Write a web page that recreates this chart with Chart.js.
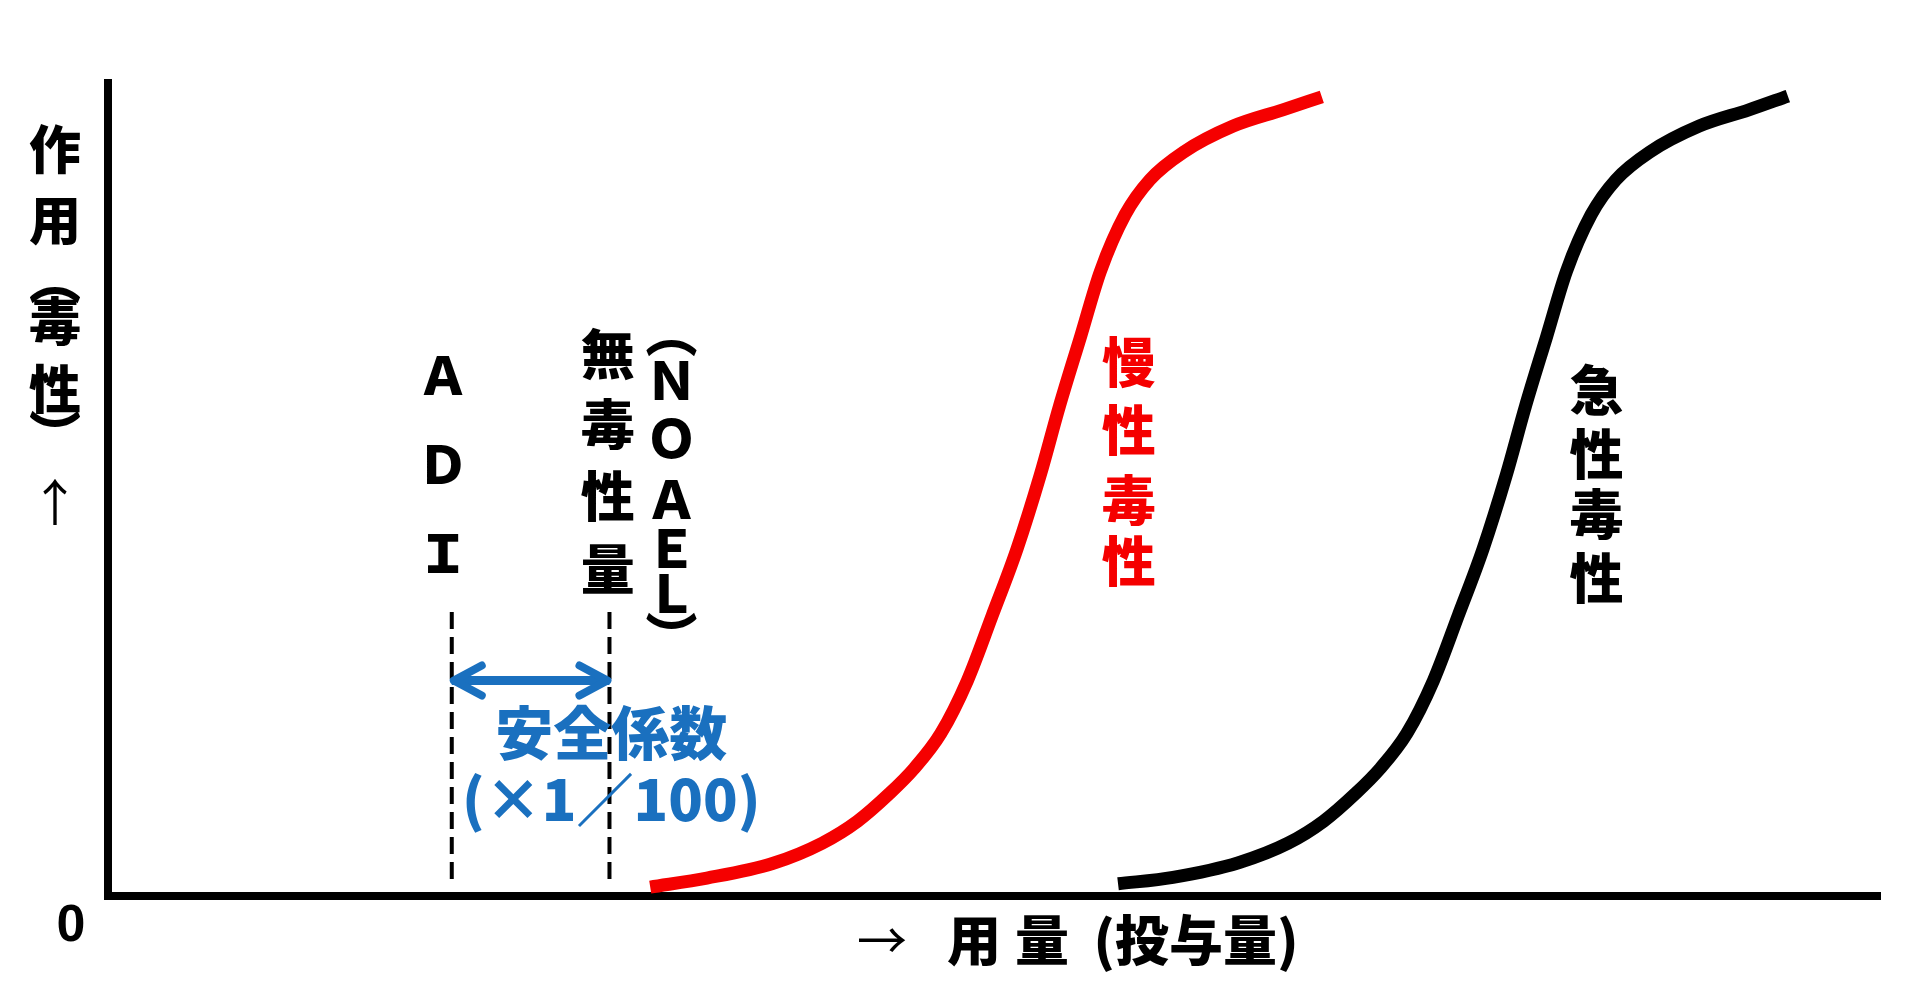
<!DOCTYPE html>
<html lang="ja">
<head>
<meta charset="utf-8">
<title>用量と毒性</title>
<script src="https://cdn.jsdelivr.net/npm/chart.js@4.4.1/dist/chart.umd.min.js"></script>
<style>
    html, body { margin: 0; padding: 0; background: #fff; }
    #wrap { width: 1920px; height: 982px; position: relative; }
</style>
</head>
<body>
<div id="wrap"><canvas id="doseChart"></canvas></div>
<script>
// 慢性毒性の曲線 (用量 0-100, 作用 0-100)
const chronicDose   = [30.6, 33.8, 37.5, 40.3, 42.3, 44.1, 45.5, 47.0, 48.5, 49.9, 51.3, 52.6, 53.7, 54.9, 56.0, 57.4, 58.8, 60.7, 63.5, 66.3, 68.5];
const chronicEffect = [1.1, 2.2, 4.0, 6.5, 9.2, 12.6, 15.7, 20.0, 26.5, 34.5, 42.7, 51.7, 60.3, 68.9, 76.8, 83.8, 88.1, 91.5, 94.7, 96.7, 98.3];

// 急性毒性の曲線
const acuteDose   = [57.0, 60.1, 63.8, 66.6, 68.6, 70.4, 71.8, 73.3, 74.8, 76.2, 77.6, 78.9, 80.0, 81.2, 82.3, 83.7, 85.1, 87.0, 89.8, 92.6, 94.8];
const acuteEffect = [1.5, 2.3, 4.1, 6.5, 9.2, 12.6, 15.7, 20.0, 26.5, 34.5, 42.7, 51.7, 60.3, 68.9, 76.8, 83.8, 88.1, 91.5, 94.7, 96.7, 98.4];

// ADI と NOAEL の位置
const adiDose = 19.4;
const noaelDose = 28.3;
const markerEffect = [2.1, 35.4];
const safetyEffect = 26.5;

// 文字
const yTitleChars = ['作', '用', '︵', '毒', '性', '︶', '↑'];
const xTitleParts = ['→', '用', '量', '(投与量)'];
const adiChars = ['Ａ', 'Ｄ', 'Ｉ'];
const noaelJaChars = ['無', '毒', '性', '量'];
const noaelEnChars = ['︵', 'Ｎ', 'Ｏ', 'Ａ', 'Ｅ', 'Ｌ', '︶'];
const chronicChars = ['慢', '性', '毒', '性'];
const acuteChars = ['急', '性', '毒', '性'];
const safetyLines = ['安全係数', '(×1／100)'];
const originLabel = '0';

const RED = '#f50000';
const BLUE = '#1a70bf';
const JP = '"Noto Sans CJK JP", "Noto Sans CJK SC", sans-serif';

const toPoints = (xs, ys) => xs.map((v, i) => ({ x: v, y: ys[i] }));

// 縦書きの文字列 (データ座標で配置)
const columns = [
    { chars: adiChars, x: 18.9, ys: [64.1, 53.1, 42.1], font: '900 52px ' + JP, color: '#000' },
    { chars: noaelJaChars, x: 28.2, ys: [66.6, 58.0, 49.2, 40.2], font: '900 54px ' + JP, color: '#000' },
    { chars: noaelEnChars, x: 31.8, ys: [69.3, 63.5, 56.3, 48.8, 42.8, 37.2, 31.8], font: '900 52px ' + JP, color: '#000' },
    { chars: chronicChars, x: 57.6, ys: [65.6, 57.3, 48.6, 41.1], font: '900 54px ' + JP, color: RED },
    { chars: acuteChars, x: 84.0, ys: [62.2, 54.3, 46.9, 39.0], font: '900 54px ' + JP, color: '#000' }
];

const labelLayer = {
    id: 'labelLayer',
    afterDatasetsDraw(chart) {
        const { ctx, chartArea, scales: { x, y } } = chart;
        ctx.save();

        // 安全係数の矢印の先端
        const shaft = chart.getDatasetMeta(4).data;
        const a = shaft[0], b = shaft[1];
        ctx.strokeStyle = BLUE;
        ctx.lineWidth = 8;
        ctx.lineCap = 'round';
        ctx.lineJoin = 'round';
        ctx.beginPath();
        ctx.moveTo(a.x + 30, a.y - 15); ctx.lineTo(a.x + 2, a.y); ctx.lineTo(a.x + 30, a.y + 15);
        ctx.moveTo(b.x - 30, b.y - 15); ctx.lineTo(b.x - 2, b.y); ctx.lineTo(b.x - 30, b.y + 15);
        ctx.stroke();

        ctx.textAlign = 'center';
        ctx.textBaseline = 'middle';

        columns.forEach(col => {
            ctx.font = col.font;
            ctx.fillStyle = col.color;
            col.chars.forEach((ch, i) => {
                ctx.fillText(ch, x.getPixelForValue(col.x), y.getPixelForValue(col.ys[i]));
            });
        });

        // 安全係数
        ctx.fillStyle = BLUE;
        ctx.font = '900 58px ' + JP;
        ctx.fillText(safetyLines[0], x.getPixelForValue(28.4), y.getPixelForValue(20.0));
        ctx.font = '900 57px ' + JP;
        ctx.fillText(safetyLines[1], x.getPixelForValue(28.4), y.getPixelForValue(11.9));

        // 縦軸タイトル
        ctx.fillStyle = '#000';
        const yTitleY = [149, 220, 279, 321, 389, 435, 502];
        yTitleChars.forEach((ch, i) => {
            ctx.font = (ch === '↑' ? '50px ' : '900 52px ') + JP;
            ctx.fillText(ch, chartArea.left - 53, yTitleY[i]);
        });

        // 原点
        ctx.font = 'bold 52px "Liberation Sans", sans-serif';
        ctx.fillText(originLabel, chartArea.left - 37, chartArea.bottom + 31);

        // 横軸タイトル
        const xTitleX = [882, 974, 1042, 1196];
        xTitleParts.forEach((t, i) => {
            ctx.font = (t === '→' ? '50px ' : '900 54px ') + JP;
            ctx.fillText(t, xTitleX[i], chartArea.bottom + 44);
        });

        ctx.restore();
    }
};

const ctx = document.getElementById('doseChart');
new Chart(ctx, {
    type: 'scatter',
    data: {
        datasets: [
            {
                label: '慢性毒性',
                data: toPoints(chronicDose, chronicEffect),
                showLine: true,
                borderColor: RED,
                borderWidth: 13,
                pointRadius: 0,
                cubicInterpolationMode: 'monotone',
                clip: false
            },
            {
                label: '急性毒性',
                data: toPoints(acuteDose, acuteEffect),
                showLine: true,
                borderColor: '#000',
                borderWidth: 13,
                pointRadius: 0,
                cubicInterpolationMode: 'monotone',
                clip: false
            },
            {
                label: 'ADI',
                data: markerEffect.map(v => ({ x: adiDose, y: v })),
                showLine: true,
                borderColor: '#000',
                borderWidth: 4,
                borderDash: [17, 8],
                pointRadius: 0
            },
            {
                label: 'NOAEL',
                data: markerEffect.map(v => ({ x: noaelDose, y: v })),
                showLine: true,
                borderColor: '#000',
                borderWidth: 4,
                borderDash: [17, 8],
                pointRadius: 0
            },
            {
                label: '安全係数',
                data: [{ x: adiDose, y: safetyEffect }, { x: noaelDose, y: safetyEffect }],
                showLine: true,
                borderColor: BLUE,
                borderWidth: 9,
                pointRadius: 0
            }
        ]
    },
    options: {
        responsive: true,
        maintainAspectRatio: false,
        animation: false,
        layout: { padding: { left: 108, right: 40, top: 83, bottom: 86 } },
        plugins: {
            legend: { display: false },
            tooltip: { enabled: false }
        },
        scales: {
            x: {
                type: 'linear',
                min: 0,
                max: 100,
                grid: { display: false },
                ticks: { display: false },
                border: { display: true, color: '#000', width: 8 },
                afterFit(scale) { scale.height = 0; }
            },
            y: {
                type: 'linear',
                min: 0,
                max: 100,
                grid: { display: false },
                ticks: { display: false },
                border: { display: true, color: '#000', width: 8 },
                afterFit(scale) { scale.width = 0; }
            }
        }
    },
    plugins: [labelLayer]
});
</script>
</body>
</html>
